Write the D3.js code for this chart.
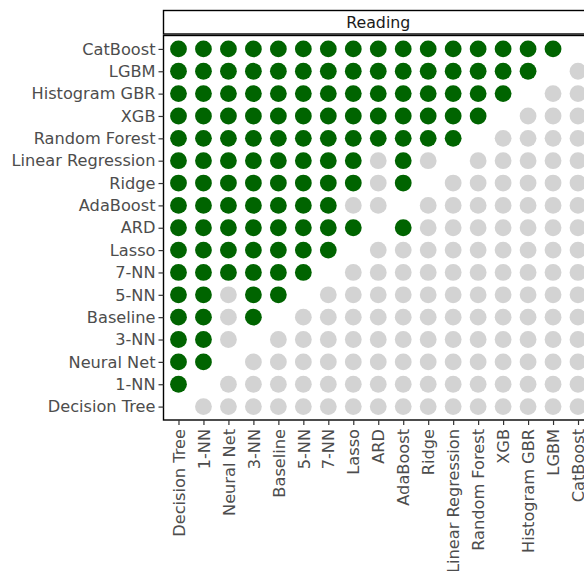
<!DOCTYPE html>
<html>
<head>
<meta charset="utf-8">
<script src="https://cdn.jsdelivr.net/npm/d3@7"></script>
<style>
  html, body { margin: 0; padding: 0; background: #fff; }
  svg { display: block; }
  text { font-family: "DejaVu Sans", sans-serif; }
</style>
</head>
<body>
<svg id="chart" width="584" height="571"></svg>
<script>
// Models in rank order (weakest first): used for both axes
const models = [
  "Decision Tree", "1-NN", "Neural Net", "3-NN", "Baseline", "5-NN", "7-NN",
  "Lasso", "ARD", "AdaBoost", "Ridge", "Linear Regression", "Random Forest",
  "XGB", "Histogram GBR", "LGBM", "CatBoost"
];

const facetLabel = "Reading";

// Pairwise outcome: row model vs column model.
// 1 = row significantly better, 0 = no significant difference, null = same model
const outcomes = {
  "Decision Tree":     [null,0,0,0,0,0,0,0,0,0,0,0,0,0,0,0,0],
  "1-NN":              [1,null,0,0,0,0,0,0,0,0,0,0,0,0,0,0,0],
  "Neural Net":        [1,1,null,0,0,0,0,0,0,0,0,0,0,0,0,0,0],
  "3-NN":              [1,1,0,null,0,0,0,0,0,0,0,0,0,0,0,0,0],
  "Baseline":          [1,1,0,1,null,0,0,0,0,0,0,0,0,0,0,0,0],
  "5-NN":              [1,1,0,1,1,null,0,0,0,0,0,0,0,0,0,0,0],
  "7-NN":              [1,1,1,1,1,1,null,0,0,0,0,0,0,0,0,0,0],
  "Lasso":             [1,1,1,1,1,1,1,null,0,0,0,0,0,0,0,0,0],
  "ARD":               [1,1,1,1,1,1,1,1,null,1,0,0,0,0,0,0,0],
  "AdaBoost":          [1,1,1,1,1,1,1,0,0,null,0,0,0,0,0,0,0],
  "Ridge":             [1,1,1,1,1,1,1,1,0,1,null,0,0,0,0,0,0],
  "Linear Regression": [1,1,1,1,1,1,1,1,0,1,0,null,0,0,0,0,0],
  "Random Forest":     [1,1,1,1,1,1,1,1,1,1,1,1,null,0,0,0,0],
  "XGB":               [1,1,1,1,1,1,1,1,1,1,1,1,1,null,0,0,0],
  "Histogram GBR":     [1,1,1,1,1,1,1,1,1,1,1,1,1,1,null,0,0],
  "LGBM":              [1,1,1,1,1,1,1,1,1,1,1,1,1,1,1,null,0],
  "CatBoost":          [1,1,1,1,1,1,1,1,1,1,1,1,1,1,1,1,null]
};

// Flatten into cells, skipping the diagonal
const cells = [];
models.forEach(rowModel => {
  outcomes[rowModel].forEach((v, j) => {
    if (v !== null) cells.push({ row: rowModel, col: models[j], better: v === 1 });
  });
});

const svg = d3.select("#chart");
const panel = { left: 163.5, right: 593, top: 35.5, bottom: 420 };
const strip = { top: 10.5, bottom: 35.5 };
const textColor = "#4d4d4d";
const fontSize = 16.2;

const x = d3.scalePoint().domain(models).range([panel.left, panel.right]).padding(0.6);
const y = d3.scalePoint().domain(models).range([panel.bottom, panel.top]).padding(0.6);

// Dots
svg.append("g")
  .selectAll("circle")
  .data(cells)
  .join("circle")
  .attr("cx", d => x(d.col))
  .attr("cy", d => y(d.row))
  .attr("r", 8.4)
  .attr("fill", d => d.better ? "#006400" : "#d3d3d3");

// Panel border
svg.append("rect")
  .attr("x", panel.left).attr("y", panel.top)
  .attr("width", panel.right - panel.left).attr("height", panel.bottom - panel.top)
  .attr("fill", "none").attr("stroke", "#000").attr("stroke-width", 1.4);

// Facet strip
svg.append("rect")
  .attr("x", panel.left).attr("y", strip.top)
  .attr("width", panel.right - panel.left).attr("height", strip.bottom - strip.top - 1.5)
  .attr("fill", "#fff").attr("stroke", "#000").attr("stroke-width", 1.4);
svg.append("text")
  .attr("x", (panel.left + panel.right) / 2)
  .attr("y", (strip.top + strip.bottom) / 2 - 0.5)
  .attr("text-anchor", "middle")
  .attr("dominant-baseline", "central")
  .attr("font-size", 15.8)
  .attr("fill", "#1a1a1a")
  .text(facetLabel);

// Y axis
const yAxis = svg.append("g")
  .attr("transform", `translate(${panel.left},0)`)
  .call(d3.axisLeft(y).tickSize(5).tickPadding(3));
yAxis.select(".domain").remove();
yAxis.selectAll(".tick line").attr("stroke", "#333").attr("stroke-width", 1.2);
yAxis.selectAll(".tick text")
  .attr("font-size", fontSize)
  .attr("font-family", "DejaVu Sans, sans-serif")
  .attr("fill", textColor);

// X axis with vertical labels
const xAxis = svg.append("g")
  .attr("transform", `translate(0,${panel.bottom})`)
  .call(d3.axisBottom(x).tickSize(5).tickPadding(3));
xAxis.select(".domain").remove();
xAxis.selectAll(".tick line").attr("stroke", "#333").attr("stroke-width", 1.2);
xAxis.selectAll(".tick text")
  .attr("font-size", fontSize)
  .attr("font-family", "DejaVu Sans, sans-serif")
  .attr("fill", textColor)
  .attr("transform", "rotate(-90)")
  .attr("text-anchor", "end")
  .attr("x", -9)
  .attr("y", 0)
  .attr("dy", "0.35em");
</script>
</body>
</html>
